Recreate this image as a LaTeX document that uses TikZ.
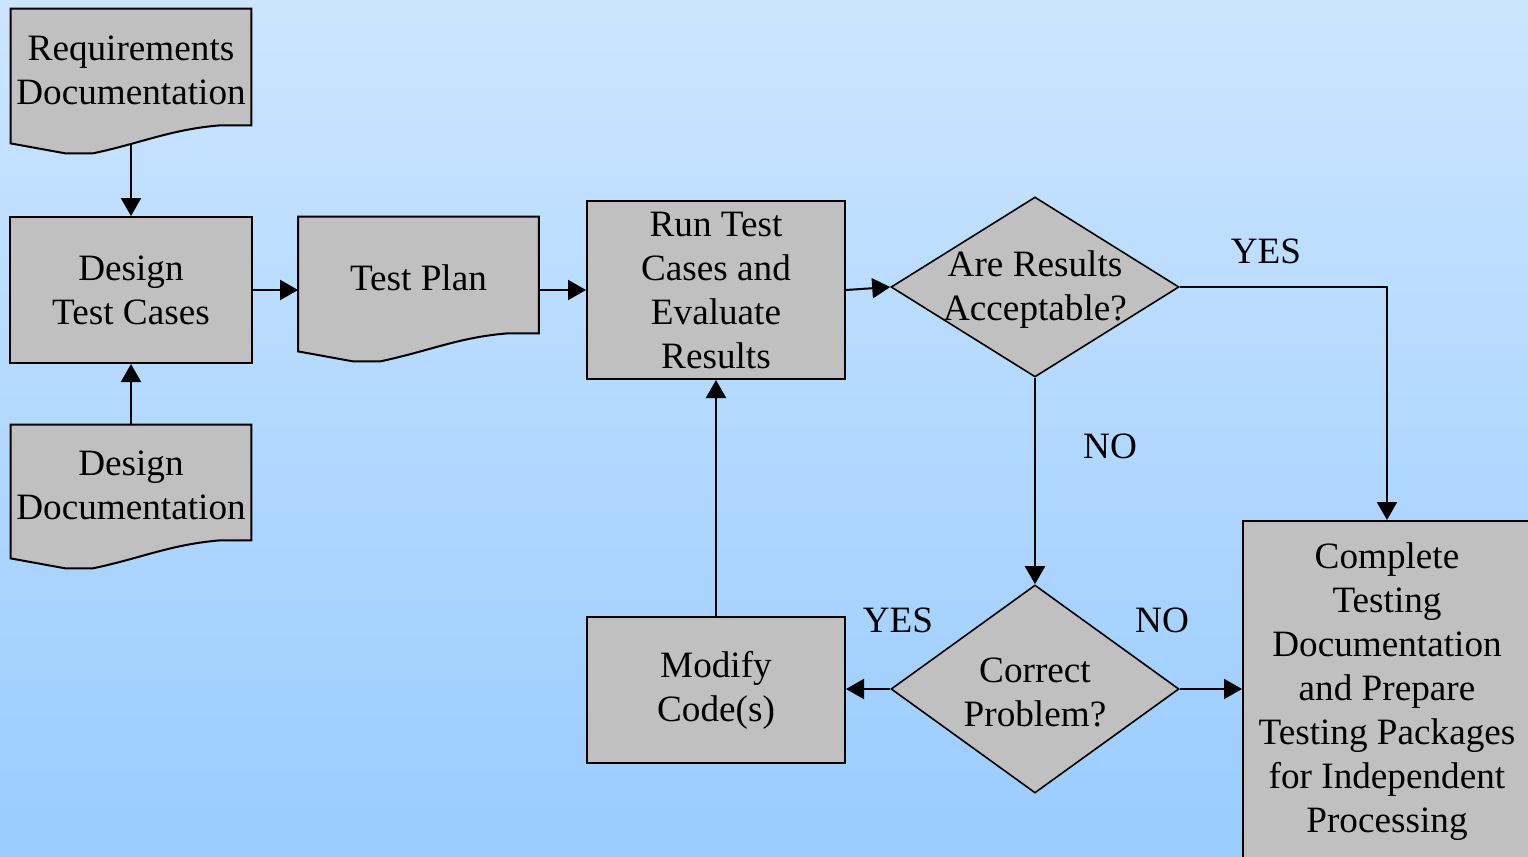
\documentclass[tikz,border=0pt]{standalone}
\usepackage{fontspec}
\setmainfont{Liberation Serif}
\usetikzlibrary{shapes.geometric,arrows.meta,calc}
\pgfdeclarelayer{bg}
\pgfdeclarelayer{conn}
\pgfsetlayers{bg,conn,main}
\definecolor{bgtop}{RGB}{204,229,255}
\definecolor{bgbot}{RGB}{153,204,255}
\definecolor{boxgray}{RGB}{192,192,192}
\tikzset{
  txt/.style={font=\fontsize{18.6}{22}\selectfont, align=center, text=black},
  procbox/.style={txt, rectangle, draw=black, line width=1pt, fill=boxgray, inner sep=0pt},
  docbox/.style={txt, rectangle, draw=none, inner sep=0pt, minimum width=120pt},
  decbox/.style={diamond, draw=black, line width=0.8pt, fill=boxgray, inner sep=0pt},
  conn/.style={line width=1pt, -{Triangle[length=9pt,width=10pt]}},
}
\newcommand{\docshape}[1]{%
  \fill[boxgray] (#1.north west) -- (#1.north east) -- (#1.south east)
    -- ($(#1.south west)+(209,0)$)
    .. controls ($(#1.south west)+(160,4)$) and ($(#1.south west)+(130,18)$) .. ($(#1.south west)+(82,28)$)
    -- ($(#1.south west)+(55,28)$) -- ($(#1.south west)+(0,18)$) -- cycle;
  \draw[line width=1pt] (#1.north west) -- (#1.north east) -- (#1.south east)
    -- ($(#1.south west)+(209,0)$)
    .. controls ($(#1.south west)+(160,4)$) and ($(#1.south west)+(130,18)$) .. ($(#1.south west)+(82,28)$)
    -- ($(#1.south west)+(55,28)$) -- ($(#1.south west)+(0,18)$) -- cycle;
  \node[docbox, minimum height=0pt] (#1text) at ([yshift=-1.5pt]#1.center) {\csname doctext#1\endcsname};
}
\begin{document}
\begin{tikzpicture}[x=0.5pt, y=-0.5pt]
\useasboundingbox (0,0) rectangle (1528,857);
\begin{pgfonlayer}{bg}
  \shade[top color=bgtop, bottom color=bgbot] (0,0) rectangle (1528,857);
\end{pgfonlayer}

% document shapes (rectangular part as node)
\node[docbox, minimum height=58pt] (req) at (131,67) {};
\node[docbox, minimum height=58pt] (tp) at (418.5,275) {};
\node[docbox, minimum height=57.5pt] (dd) at (131,482.5) {};
\expandafter\def\csname doctextreq\endcsname{Requirements\\Documentation}
\expandafter\def\csname doctexttp\endcsname{Test Plan}
\expandafter\def\csname doctextdd\endcsname{Design\\Documentation}
\docshape{req}
\docshape{tp}
\docshape{dd}

% process boxes
\node[procbox, minimum width=121pt, minimum height=73pt] (dtc) at (131,290) {Design\\Test Cases};
\node[procbox, minimum width=129pt, minimum height=89pt] (run) at (716,290) {Run Test\\Cases and\\Evaluate\\Results};
\node[procbox, minimum width=129pt, minimum height=73pt] (mod) at (716,690) {Modify\\Code(s)};
\node[procbox, minimum width=144pt, minimum height=174.5pt] (comp) at (1387,695.5) {};
\node[txt] (comptext) at (1387,692) {Complete\\Testing\\Documentation\\and Prepare\\Testing Packages\\for Independent\\Processing};

% decisions
\node[decbox, minimum width=144pt, minimum height=90pt] (are) at (1035,287) {};
\node[txt] (aretext) at (1035,290) {Are Results\\Acceptable?};
\node[decbox, minimum width=144pt, minimum height=104pt] (cor) at (1035,689) {};
\node[txt] (cortext) at (1035,692) {Correct\\Problem?};

% labels
\node[txt] (lyes1) at (1266,251) {YES};
\node[txt] (lno1) at (1110,446) {NO};
\node[txt] (lyes2) at (898,620) {YES};
\node[txt] (lno2) at (1162,620) {NO};

% connectors
\coordinate (yesbend) at (1387,287);
\begin{pgfonlayer}{conn}
  \draw[conn] (req.south) -- (dtc.north);
  \draw[conn] (dd.north) -- (dtc.south);
  \draw[conn] (dtc.east) -- (dtc.east -| tp.west);
  \draw[conn] (tp.east |- run.west) -- (run.west);
  \draw[conn] (run.east) -- (are.west);
  \draw[conn] (are.east) -- (yesbend) -- (comp.north);
  \draw[conn] (are.south) -- (cor.north);
  \draw[conn] (cor.west) -- (cor.west -| mod.east);
  \draw[conn] (cor.east) -- (cor.east -| comp.west);
  \draw[conn] (mod.north) -- (run.south);
\end{pgfonlayer}
\end{tikzpicture}
\end{document}
